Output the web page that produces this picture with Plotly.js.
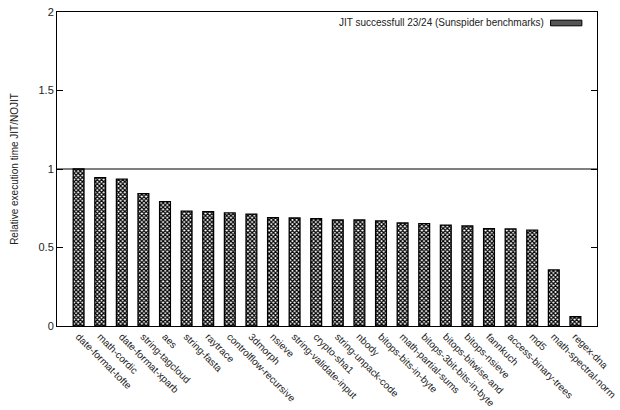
<!DOCTYPE html>
<html>
<head>
<meta charset="utf-8">
<script src="https://cdn.plot.ly/plotly-3.0.1.min.js"></script>
<style>html,body{margin:0;padding:0;background:#fff;}#chart{width:620px;height:410px;}</style>
</head>
<body>
<div id="chart"></div>
<script>
const benchmarks = ["date-format-tofte","math-cordic","date-format-xparb","string-tagcloud","aes","string-fasta","raytrace","controlflow-recursive","3dmorph","nsieve","string-validate-input","crypto-sha1","string-unpack-code","nbody","bitops-bits-in-byte","math-partial-sums","bitops-3bit-bits-in-byte","bitops-bitwise-and","bitops-nsieve","fannkuch","access-binary-trees","md5","math-spectral-norm","regex-dna"];
const relativeTime = [1.0,0.945,0.936,0.843,0.792,0.732,0.728,0.720,0.713,0.690,0.688,0.683,0.675,0.675,0.669,0.656,0.652,0.643,0.637,0.620,0.618,0.611,0.357,0.059];
const seriesName = "JIT successfull 23/24 (Sunspider benchmarks)";
const yTicks = [0,0.5,1,1.5,2];

const idx = benchmarks.map((_, i) => i);
const font = {family: "Liberation Sans, Arial, sans-serif", size: 10, color: "#222"};

const trace = {
  type: "bar",
  x: idx,
  y: relativeTime,
  width: 0.5,
  name: seriesName,
  showlegend: false,
  marker: {
    color: "#fff",
    line: {color: "#000", width: 1.3},
    pattern: {shape: "x", size: 3, solidity: 0.65, fgcolor: "#000", bgcolor: "#fff"}
  }
};

const layout = {
  width: 620, height: 410,
  margin: {l: 57, r: 23, t: 12, b: 84},
  paper_bgcolor: "#fff", plot_bgcolor: "#fff",
  font: font,
  showlegend: false,
  bargap: 0.5,
  xaxis: {
    range: [-1, 24],
    tickmode: "array", tickvals: idx, ticktext: benchmarks,
    tickangle: 45,
    ticks: "", showgrid: false, zeroline: false,
    showline: true, linecolor: "#000", linewidth: 1, mirror: true,
    tickfont: {family: font.family, size: 10, color: "#222"}
  },
  yaxis: {
    range: [0, 2],
    tickmode: "array", tickvals: yTicks, ticktext: yTicks.map(String),
    ticks: "inside", ticklen: 6, tickcolor: "#000",
    showgrid: false, zeroline: false,
    showline: true, linecolor: "#000", linewidth: 1, mirror: "allticks",
    tickfont: {family: font.family, size: 11, color: "#222"},
    title: {text: "Relative execution time JIT/NOJIT", font: {family: font.family, size: 10, color: "#222"}, standoff: 18}
  },
  shapes: [
    {type: "line", xref: "paper", x0: 0, x1: 1, yref: "y", y0: 1, y1: 1, line: {color: "#000", width: 1}},
    {type: "rect", xref: "paper", yref: "paper", x0: 0.914, x1: 0.972, y0: 0.956, y1: 0.974, fillcolor: "#555", line: {color: "#000", width: 1}}
  ],
  annotations: [
    {xref: "paper", yref: "paper", x: 0.905, y: 0.965, xanchor: "right", yanchor: "middle", showarrow: false, text: seriesName, font: {family: font.family, size: 10, color: "#222"}}
  ]
};

Plotly.newPlot("chart", [trace], layout, {displayModeBar: false, staticPlot: true});
</script>
</body>
</html>
